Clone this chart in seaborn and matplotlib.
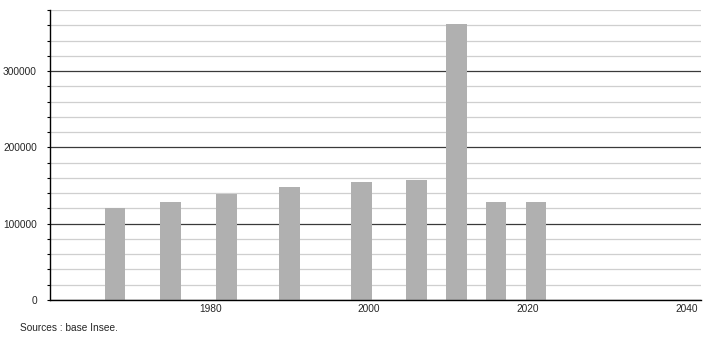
import matplotlib
matplotlib.use("Agg")
import matplotlib.pyplot as plt
import seaborn as sns
import pandas as pd
import numpy as np

years = [1968, 1975, 1982, 1990, 1999, 2006, 2011, 2016, 2021]
population = [121000, 129000, 139500, 148700, 154000, 157500, 362000, 129000, 129000]
y_major = [0, 100000, 200000, 300000]
x_ticks = [1980, 2000, 2020, 2040]
source_text = "Sources : base Insee."

sns.set_style("white")
plt.rcParams['font.family'] = ['Liberation Sans', 'DejaVu Sans']

df = pd.DataFrame({"year": years, "pop": population})

fig = plt.figure(figsize=(7.1, 3.4), dpi=100)
ax = fig.add_axes([50/710, 40/340, 651/710, 290/340])

# gridlines
for v in np.arange(0, 380001, 20000):
    if v % 100000 == 0:
        ax.axhline(v, color="#3a3a3a", lw=0.9, zorder=0)
    else:
        ax.axhline(v, color="#cfcfcf", lw=0.9, zorder=0)

sns.barplot(data=df, x="year", y="pop", native_scale=True, width=0.52,
            color="#b0b0b0", saturation=1, ax=ax, zorder=2, edgecolor="none")

ax.set_xlim(1959.8, 2041.8)
ax.set_ylim(0, 380000)
ax.set_xticks(x_ticks)
ax.set_xticklabels([str(t) for t in x_ticks], fontsize=7.3)
ax.set_yticks(y_major)
ax.set_yticklabels([str(t) for t in y_major], fontsize=7.3)
ax.set_yticks(np.arange(0, 380001, 20000), minor=True)
ax.tick_params(axis="y", which="major", length=2.5, width=0.8, color="black", pad=7, direction="out", left=True)
ax.tick_params(axis="y", which="minor", length=2.5, width=0.8, color="black", left=True)
ax.tick_params(axis="x", length=0, pad=3)
ax.set_xlabel("")
ax.set_ylabel("")
for s in ["top", "right"]:
    ax.spines[s].set_visible(False)
ax.spines["left"].set_color("black")
ax.spines["bottom"].set_color("black")
ax.spines["left"].set_linewidth(1)
ax.spines["bottom"].set_linewidth(1)

fig.text(20/710, 1 - 328/340, source_text, fontsize=7.3, va="center", ha="left")

fig.savefig("out.png", dpi=100)
